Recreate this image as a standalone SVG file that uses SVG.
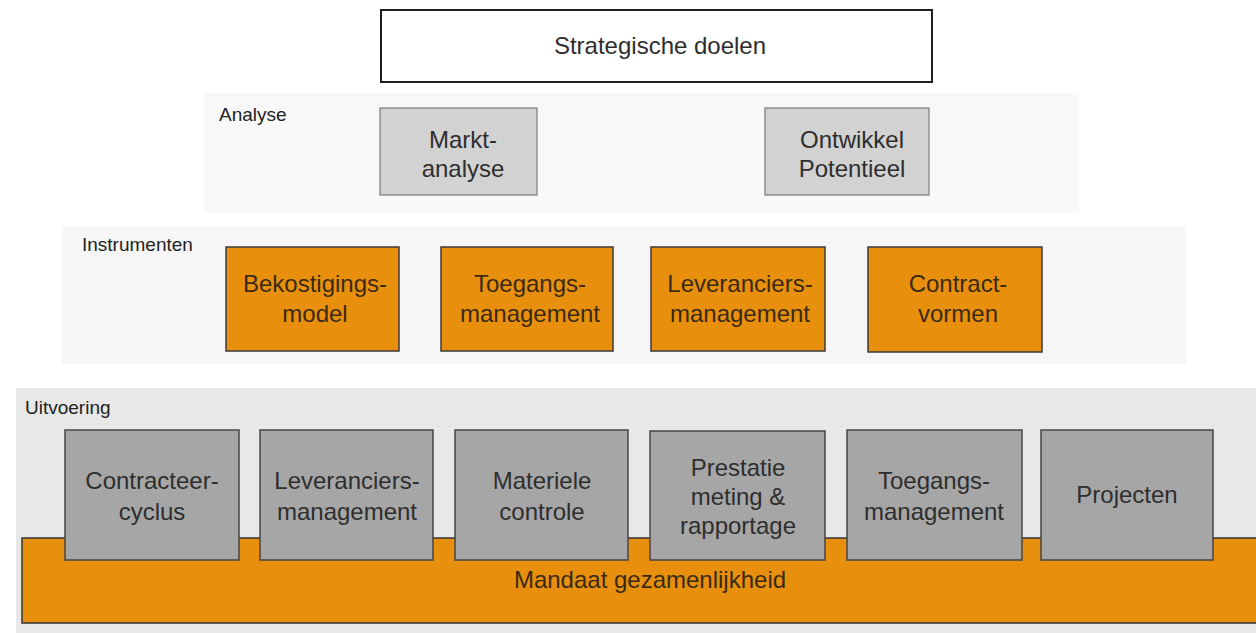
<svg xmlns="http://www.w3.org/2000/svg" width="1256" height="633" viewBox="0 0 1256 633">
  <style>
    text { font-family: "Liberation Sans", Arial, sans-serif; text-anchor: middle; }
    .lbl { font-size: 24px; fill: #2e2e2e; }
    .olbl { font-size: 24px; fill: #3a2a12; }
    .band-lbl { font-size: 19px; fill: #222; text-anchor: start; }
    .ana { fill: #d2d2d2; stroke: #7a7a7a; stroke-width: 1.2; }
    .ins { fill: #e8900e; stroke: #3a3a3a; stroke-width: 1.5; }
    .uit { fill: #a6a6a6; stroke: #454545; stroke-width: 1.5; }
  </style>
  <rect width="1256" height="633" fill="#ffffff"/>

  <!-- bands -->
  <g id="band-analyse">
    <rect x="204" y="93" width="875" height="120" fill="#f8f8f8"/>
    <text class="band-lbl" x="219" y="121">Analyse</text>
  </g>
  <g id="band-instrumenten">
    <rect x="62" y="226" width="1124" height="138" fill="#f6f6f6"/>
    <text class="band-lbl" x="82" y="251">Instrumenten</text>
  </g>
  <g id="band-uitvoering">
    <rect x="16" y="388" width="1240" height="245" fill="#e8e8e8"/>
    <text class="band-lbl" x="25" y="414">Uitvoering</text>
  </g>

  <g id="strategische-doelen">
    <rect x="381" y="10" width="551" height="72" fill="#ffffff" stroke="#1e1e1e" stroke-width="2"/>
    <text class="lbl" x="660" y="54">Strategische doelen</text>
  </g>

  <g id="marktanalyse">
    <rect class="ana" x="380" y="108" width="157" height="87"/>
    <text class="lbl" x="463" y="148">Markt-</text>
    <text class="lbl" x="463" y="177">analyse</text>
  </g>
  <g id="ontwikkel-potentieel">
    <rect class="ana" x="765" y="108" width="164" height="87"/>
    <text class="lbl" x="852" y="148">Ontwikkel</text>
    <text class="lbl" x="852" y="177">Potentieel</text>
  </g>

  <g id="bekostigingsmodel">
    <rect class="ins" x="226" y="247" width="173" height="104"/>
    <text class="olbl" x="315" y="292">Bekostigings-</text>
    <text class="olbl" x="315" y="322">model</text>
  </g>
  <g id="toegangsmanagement-instr">
    <rect class="ins" x="441" y="247" width="172" height="104"/>
    <text class="olbl" x="530" y="292">Toegangs-</text>
    <text class="olbl" x="530" y="322">management</text>
  </g>
  <g id="leveranciersmanagement-instr">
    <rect class="ins" x="651" y="247" width="174" height="104"/>
    <text class="olbl" x="740" y="292">Leveranciers-</text>
    <text class="olbl" x="740" y="322">management</text>
  </g>
  <g id="contractvormen">
    <rect class="ins" x="868" y="247" width="174" height="105"/>
    <text class="olbl" x="958" y="292">Contract-</text>
    <text class="olbl" x="958" y="322">vormen</text>
  </g>

  <g id="mandaat-gezamenlijkheid">
    <rect x="22" y="538" width="1240" height="85" fill="#e8900e" stroke="#333333" stroke-width="1.5"/>
    <text class="olbl" x="650" y="588">Mandaat gezamenlijkheid</text>
  </g>

  <g id="contracteercyclus">
    <rect class="uit" x="65" y="430" width="174" height="130"/>
    <text class="lbl" x="152" y="489">Contracteer-</text>
    <text class="lbl" x="152" y="520">cyclus</text>
  </g>
  <g id="leveranciersmanagement-uit">
    <rect class="uit" x="260" y="430" width="173" height="130"/>
    <text class="lbl" x="347" y="489">Leveranciers-</text>
    <text class="lbl" x="347" y="520">management</text>
  </g>
  <g id="materiele-controle">
    <rect class="uit" x="455" y="430" width="173" height="130"/>
    <text class="lbl" x="542" y="489">Materiele</text>
    <text class="lbl" x="542" y="520">controle</text>
  </g>
  <g id="prestatiemeting">
    <rect class="uit" x="650" y="431" width="175" height="129"/>
    <text class="lbl" x="738" y="476">Prestatie</text>
    <text class="lbl" x="738" y="505">meting &amp;</text>
    <text class="lbl" x="738" y="534">rapportage</text>
  </g>
  <g id="toegangsmanagement-uit">
    <rect class="uit" x="847" y="430" width="175" height="130"/>
    <text class="lbl" x="934" y="489">Toegangs-</text>
    <text class="lbl" x="934" y="520">management</text>
  </g>
  <g id="projecten">
    <rect class="uit" x="1041" y="430" width="172" height="130"/>
    <text class="lbl" x="1127" y="503">Projecten</text>
  </g>

  <g id="connectors"></g>
</svg>
